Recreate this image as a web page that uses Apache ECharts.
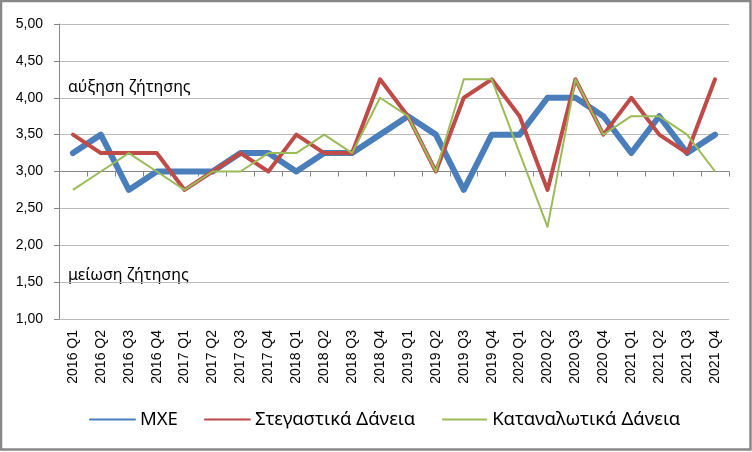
<!DOCTYPE html>
<html>
<head>
<meta charset="utf-8">
<script src="https://cdn.jsdelivr.net/npm/echarts@6/dist/echarts.min.js"></script>
<style>
html,body{margin:0;padding:0;background:#fff;}
#c{width:752px;height:452px;}
</style>
</head>
<body>
<div id="c"></div>
<script>
const categories = ['2016 Q1','2016 Q2','2016 Q3','2016 Q4','2017 Q1','2017 Q2','2017 Q3','2017 Q4',
  '2018 Q1','2018 Q2','2018 Q3','2018 Q4','2019 Q1','2019 Q2','2019 Q3','2019 Q4',
  '2020 Q1','2020 Q2','2020 Q3','2020 Q4','2021 Q1','2021 Q2','2021 Q3','2021 Q4'];
const mxe = [3.25,3.5,2.75,3.0,3.0,3.0,3.25,3.25,3.0,3.25,3.25,3.5,3.75,3.5,2.75,3.5,3.5,4.0,4.0,3.75,3.25,3.75,3.25,3.5];
const housing = [3.5,3.25,3.25,3.25,2.75,3.0,3.25,3.0,3.5,3.25,3.25,4.25,3.75,3.0,4.0,4.25,3.75,2.75,4.25,3.5,4.0,3.5,3.25,4.25];
const consumer = [2.75,3.0,3.25,3.0,2.75,3.0,3.0,3.25,3.25,3.5,3.25,4.0,3.75,3.0,4.25,4.25,3.25,2.25,4.25,3.5,3.75,3.75,3.5,3.0];
const seriesNames = ['ΜΧΕ','Στεγαστικά Δάνεια','Καταναλωτικά Δάνεια'];
const annotations = ['αύξηση ζήτησης','μείωση ζήτησης'];

const chart = echarts.init(document.getElementById('c'), null, {renderer:'canvas'});
const axisGray = '#868686';
const gridGray = '#BBBBBB';
chart.setOption({
  animation:false,
  backgroundColor:'#fff',
  grid:[
    {left:59, right:23, top:24, bottom:133},
    {left:59, right:23, top:24, bottom:280.5}
  ],
  legend:{
    show:true,
    data:seriesNames,
    left:84,
    top:405,
    itemWidth:45,
    itemHeight:14,
    itemGap:26,
    itemStyle:{opacity:0},
    textStyle:{fontFamily:'Noto Sans', fontSize:18.5, color:'#000'}
  },
  xAxis:[
    {
      type:'category', data:categories, gridIndex:0, boundaryGap:true,
      axisLine:{show:false}, axisTick:{show:false},
      axisLabel:{rotate:90, interval:0, margin:11, fontFamily:'Liberation Sans', fontSize:14, color:'#000'}
    },
    {
      type:'category', data:categories, gridIndex:1, boundaryGap:true, position:'bottom',
      axisLine:{show:true, lineStyle:{color:axisGray, width:1}},
      axisTick:{show:true, interval:0, length:5, lineStyle:{color:axisGray}},
      axisLabel:{show:false}
    }
  ],
  yAxis:[
    {
      type:'value', gridIndex:0, min:1, max:5, interval:0.5,
      axisLine:{show:true, lineStyle:{color:axisGray}},
      axisTick:{show:true, length:5, lineStyle:{color:axisGray}},
      splitLine:{show:true, lineStyle:{color:gridGray}},
      axisLabel:{margin:16, fontFamily:'Liberation Sans', fontSize:14, color:'#000',
        formatter:v=>v.toFixed(2).replace('.',',')}
    },
    {
      type:'value', gridIndex:1, min:3, max:5, show:false
    }
  ],
  series:[
    {name:seriesNames[0], type:'line', data:mxe, xAxisIndex:0, yAxisIndex:0, symbol:'none',
      lineStyle:{color:'#4A7EBB', width:6, join:'round', cap:'round'}, itemStyle:{color:'#4A7EBB'}},
    {name:seriesNames[1], type:'line', data:housing, xAxisIndex:0, yAxisIndex:0, symbol:'none',
      lineStyle:{color:'#BE4B48', width:4, join:'round', cap:'round'}, itemStyle:{color:'#BE4B48'}},
    {name:seriesNames[2], type:'line', data:consumer, xAxisIndex:0, yAxisIndex:0, symbol:'none',
      lineStyle:{color:'#9BBB59', width:2, join:'round'}, itemStyle:{color:'#9BBB59'}}
  ],
  graphic:[
    {type:'text', left:68, top:79, style:{text:annotations[0], fontFamily:'Noto Sans', fontSize:16, fill:'#000'}},
    {type:'text', left:68, top:267, style:{text:annotations[1], fontFamily:'Noto Sans', fontSize:16, fill:'#000'}},
    {type:'rect', shape:{x:1, y:1, width:749.5, height:448.5}, style:{fill:'none', stroke:'#888888', lineWidth:2.5}, z:100}
  ]
});
</script>
</body>
</html>
